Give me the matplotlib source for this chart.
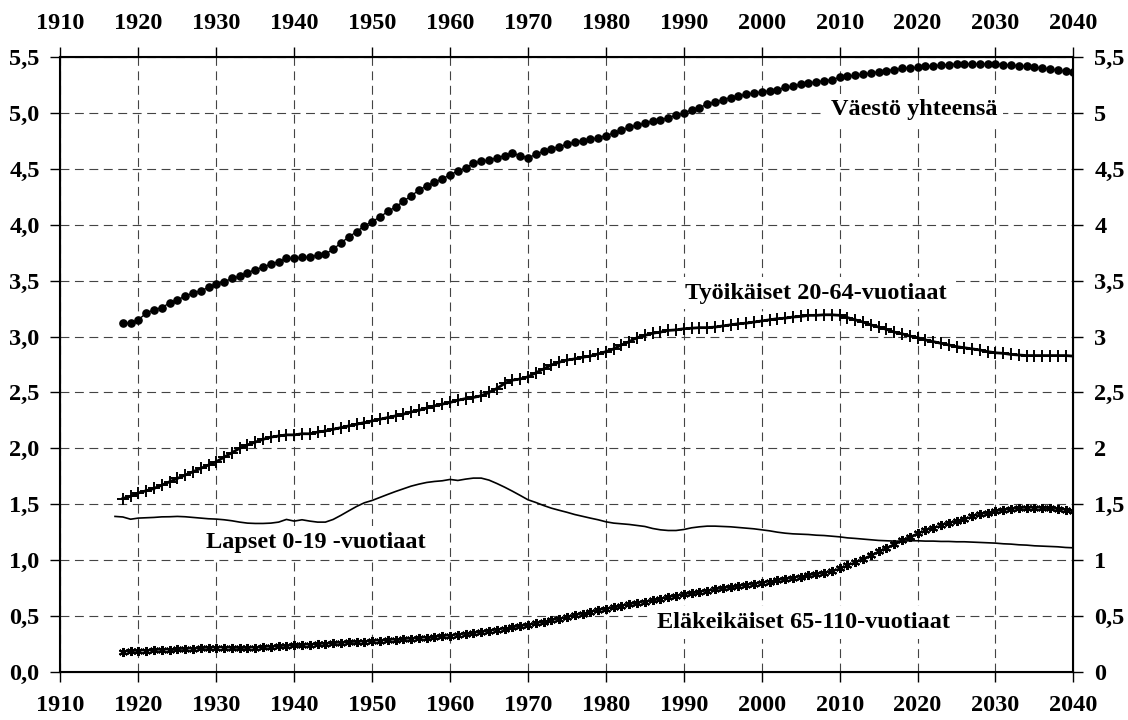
import numpy as np
import matplotlib.pyplot as plt

plt.rcParams['font.family'] = ['Liberation Serif', 'DejaVu Serif']
plt.rcParams['font.weight'] = 'bold'

# Väestö 1918-2040, miljoonaa
years = list(range(1918, 2041))
vaesto = [3.12, 3.12, 3.15, 3.21, 3.24, 3.26, 3.30, 3.33, 3.36, 3.39,
          3.41, 3.44, 3.47, 3.49, 3.52, 3.54, 3.57, 3.60, 3.62, 3.65,
          3.67, 3.70, 3.70, 3.71, 3.71, 3.73, 3.74, 3.78, 3.84, 3.89,
          3.94, 3.99, 4.03, 4.07, 4.12, 4.16, 4.21, 4.26, 4.31, 4.35,
          4.38, 4.41, 4.45, 4.48, 4.51, 4.55, 4.57, 4.58, 4.60, 4.62,
          4.64, 4.62, 4.60, 4.63, 4.66, 4.68, 4.70, 4.72, 4.74, 4.755,
          4.765, 4.78, 4.80, 4.82, 4.845, 4.875, 4.89, 4.91, 4.93, 4.94,
          4.96, 4.98, 5.00, 5.03, 5.05, 5.08, 5.10, 5.12, 5.14, 5.15,
          5.17, 5.18, 5.19, 5.20, 5.21, 5.23, 5.24, 5.26, 5.27, 5.28,
          5.29, 5.30, 5.32, 5.33, 5.34, 5.35, 5.36, 5.37, 5.38, 5.39,
          5.40, 5.405, 5.41, 5.42, 5.425, 5.43, 5.435, 5.44, 5.44, 5.44,
          5.44, 5.44, 5.44, 5.435, 5.43, 5.425, 5.42, 5.41, 5.405, 5.395,
          5.385, 5.375, 5.365]

tyoikaiset = [1.55, 1.57, 1.60, 1.62, 1.64, 1.67, 1.70, 1.73, 1.76, 1.79,
              1.82, 1.85, 1.88, 1.92, 1.96, 2.00, 2.03, 2.055, 2.08, 2.10,
              2.11, 2.12, 2.12, 2.13, 2.13, 2.145, 2.155, 2.17, 2.185, 2.20,
              2.215, 2.23, 2.245, 2.26, 2.275, 2.29, 2.305, 2.325, 2.34, 2.36,
              2.38, 2.395, 2.41, 2.43, 2.445, 2.455, 2.47, 2.50, 2.535, 2.58,
              2.61, 2.62, 2.64, 2.675, 2.71, 2.745, 2.77, 2.79, 2.80, 2.815,
              2.825, 2.845, 2.865, 2.89, 2.925, 2.955, 2.99, 3.01, 3.03, 3.04,
              3.055, 3.06, 3.07, 3.075, 3.08, 3.08, 3.085, 3.095, 3.105, 3.115,
              3.12, 3.13, 3.14, 3.15, 3.16, 3.165, 3.175, 3.18, 3.19, 3.19,
              3.195, 3.195, 3.19, 3.17, 3.15, 3.13, 3.105, 3.085, 3.065, 3.04,
              3.025, 3.005, 2.99, 2.97, 2.955, 2.94, 2.925, 2.91, 2.90, 2.89,
              2.88, 2.865, 2.855, 2.85, 2.84, 2.835, 2.83, 2.83, 2.83, 2.83,
              2.83, 2.83, 2.825]

elakeikaiset = [0.18, 0.183, 0.186, 0.189, 0.192, 0.195, 0.197, 0.200, 0.203, 0.206,
                0.209, 0.213, 0.216, 0.215, 0.212, 0.21, 0.212, 0.215, 0.219, 0.223,
                0.227, 0.231, 0.235, 0.238, 0.242, 0.246, 0.25, 0.254, 0.258, 0.262,
                0.266, 0.27, 0.274, 0.278, 0.282, 0.286, 0.29, 0.295, 0.30, 0.305,
                0.311, 0.317, 0.323, 0.331, 0.339, 0.347, 0.356, 0.365, 0.375, 0.385,
                0.396, 0.407, 0.419, 0.432, 0.446, 0.46, 0.475, 0.49, 0.505, 0.52,
                0.536, 0.55, 0.563, 0.577, 0.59, 0.603, 0.615, 0.627, 0.64, 0.653,
                0.666, 0.679, 0.692, 0.703, 0.714, 0.725, 0.736, 0.747, 0.757, 0.767,
                0.777, 0.787, 0.797, 0.807, 0.818, 0.829, 0.84, 0.851, 0.862, 0.874,
                0.886, 0.902, 0.925, 0.952, 0.982, 1.013, 1.045, 1.078, 1.11, 1.145,
                1.178, 1.21, 1.24, 1.265, 1.288, 1.31, 1.33, 1.35, 1.37, 1.39,
                1.408, 1.423, 1.436, 1.447, 1.456, 1.462, 1.466, 1.467, 1.465, 1.461,
                1.455, 1.448, 1.44]

# Lapset 1917-2040
years_lapset = list(range(1917, 2041))
lapset = [1.39, 1.385, 1.365, 1.375, 1.378, 1.381, 1.386, 1.387, 1.39, 1.387,
          1.381, 1.375, 1.369, 1.366, 1.36, 1.351, 1.339, 1.33, 1.327, 1.327,
          1.33, 1.339, 1.363, 1.348, 1.36, 1.348, 1.339, 1.339, 1.363, 1.40,
          1.44, 1.479, 1.512, 1.533, 1.56, 1.587, 1.613, 1.637, 1.661, 1.679,
          1.694, 1.703, 1.709, 1.721, 1.712, 1.724, 1.733, 1.733, 1.715, 1.685,
          1.652, 1.616, 1.578, 1.539, 1.515, 1.488, 1.464, 1.445, 1.427, 1.407,
          1.391, 1.375, 1.36, 1.342, 1.33, 1.324, 1.318, 1.309, 1.30, 1.282,
          1.27, 1.264, 1.264, 1.273, 1.288, 1.297, 1.303, 1.303, 1.30, 1.297,
          1.291, 1.285, 1.279, 1.27, 1.261, 1.249, 1.24, 1.234, 1.231, 1.228,
          1.222, 1.219, 1.213, 1.207, 1.198, 1.193, 1.187, 1.181, 1.175, 1.172,
          1.169, 1.169, 1.172, 1.172, 1.169, 1.169, 1.166, 1.166, 1.163, 1.163,
          1.16, 1.157, 1.154, 1.151, 1.145, 1.142, 1.136, 1.133, 1.127, 1.124,
          1.121, 1.118, 1.112, 1.109]

x_ticks = list(range(1910, 2041, 10))
y_ticks = [0, 0.5, 1, 1.5, 2, 2.5, 3, 3.5, 4, 4.5, 5, 5.5]
left_labels = ['0,0', '0,5', '1,0', '1,5', '2,0', '2,5', '3,0', '3,5', '4,0', '4,5', '5,0', '5,5']
right_labels = ['0', '0,5', '1', '1,5', '2', '2,5', '3', '3,5', '4', '4,5', '5', '5,5']

fig = plt.figure(figsize=(11.28, 7.2), dpi=100)
ax = fig.add_axes([0.0536, 0.0671, 0.898, 0.8533])

ax.plot(years, vaesto, color='black', lw=1, marker='o', ms=5.2, zorder=4)
ax.plot(years, tyoikaiset, color='black', lw=2, marker='+', ms=9, mew=1.4, zorder=4)
ax.plot(years_lapset, lapset, color='black', lw=1.2, zorder=4)
ax.plot(years, elakeikaiset, color='black', lw=1, marker=(6, 2, 0), ms=6.5, mew=1.5, zorder=4)

ax.set_xlim(1910, 2040)
ax.set_ylim(0, 5.5)
ax.set_xticks(x_ticks)
ax.set_yticks(y_ticks)
ax.set_yticklabels(left_labels)
ax.grid(True, color='#444444', lw=0.8, linestyle=(0, (8, 5)))
ax.set_axisbelow(True)
for s in ax.spines.values():
    s.set_linewidth(1.5)

ax.tick_params(direction='out', length=7, width=1, labelsize=17.5,
               top=True, labeltop=True, pad=8)
ax.tick_params(axis='x', which='both', bottom=True, pad=10)

ax2 = ax.twinx()
ax2.set_ylim(0, 5.5)
ax2.set_yticks(y_ticks)
ax2.set_yticklabels(right_labels)
ax2.tick_params(direction='out', length=7, width=1, labelsize=17.5, pad=8)

box = dict(facecolor='white', edgecolor='none', pad=4)
ax.text(2019.6, 5.03, 'Väestö yhteensä', ha='center', va='center', fontsize=17.5, bbox=box, zorder=3)
ax.text(2006.9, 3.39, 'Työikäiset 20-64-vuotiaat', ha='center', va='center', fontsize=17.5, bbox=box, zorder=3)
ax.text(1942.8, 1.16, 'Lapset 0-19 -vuotiaat', ha='center', va='center', fontsize=17.5, bbox=box, zorder=3)
ax.text(2005.3, 0.44, 'Eläkeikäiset 65-110-vuotiaat', ha='center', va='center', fontsize=17.5, bbox=box, zorder=3)

fig.savefig('out.png', dpi=100)
